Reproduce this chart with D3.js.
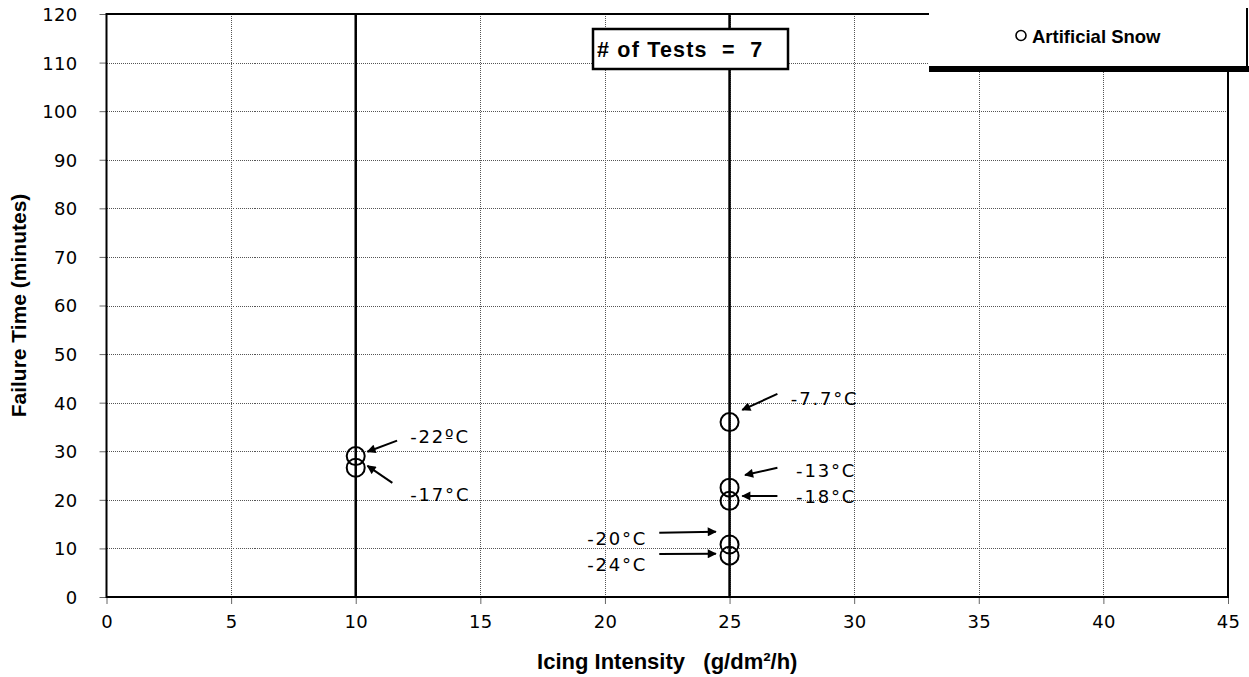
<!DOCTYPE html>
<html>
<head>
<meta charset="utf-8">
<script src="https://cdn.jsdelivr.net/npm/d3@7"></script>
<style>
  html, body { margin: 0; padding: 0; background: #fff; }
  svg { display: block; font-family: "Liberation Sans", Arial, sans-serif; }
</style>
</head>
<body>
<svg id="chart" width="1249" height="677"></svg>
<script>
// ---- data ----
const xTicks = [0, 5, 10, 15, 20, 25, 30, 35, 40, 45];
const yTicks = [0, 10, 20, 30, 40, 50, 60, 70, 80, 90, 100, 110, 120];
const intensity = [10, 10, 25, 25, 25, 25, 25];
const failureTime = [29.0, 26.6, 36.0, 22.5, 19.8, 10.8, 8.5];
const tempLabels = ["-22\u00BAC", "-17\u00B0C", "-7.7\u00B0C", "-13\u00B0C", "-18\u00B0C", "-20\u00B0C", "-24\u00B0C"];
// label anchor (data units)
const labelX = [12.19, 12.19, 27.46, 27.67, 27.67, 19.29, 19.29];
const labelY = [31.8, 19.8, 39.5, 24.8, 19.3, 10.7, 5.4];
// arrow tail / tip (data units)
const arrowX1 = [11.66, 11.47, 26.92, 26.92, 26.92, 22.18, 22.18];
const arrowY1 = [32.2, 23.5, 41.8, 26.6, 20.8, 13.2, 8.85];
const arrowX2 = [10.47, 10.47, 25.51, 25.62, 25.51, 24.45, 24.45];
const arrowY2 = [29.9, 27.0, 38.5, 25.1, 20.8, 13.45, 8.9];
const refLinesX = [10, 25];
const seriesName = "Artificial Snow";
const testsText = "# of Tests  =  7";
const xTitle = "Icing Intensity   (g/dm\u00B2/h)";
const yTitle = "Failure Time (minutes)";

// ---- layout ----
const svg = d3.select("#chart");
const L = 106.5, R = 1228, T = 14, B = 597;
const x = d3.scaleLinear().domain([0, 45]).range([L, R]);
const y = d3.scaleLinear().domain([0, 120]).range([B, T]);
const numFont = "DejaVu Sans, Verdana, sans-serif";

svg.append("defs").append("marker")
  .attr("id", "arr").attr("viewBox", "0 0 10 10")
  .attr("refX", 9).attr("refY", 5)
  .attr("markerWidth", 5).attr("markerHeight", 4.5)
  .attr("markerUnits", "strokeWidth")
  .attr("orient", "auto")
  .append("path").attr("d", "M0,0 L10,5 L0,10 z").attr("fill", "#000");

// gridlines
const grid = svg.append("g").attr("shape-rendering", "crispEdges");
grid.selectAll(".gx").data(xTicks.slice(1, -1)).join("line")
  .attr("x1", d => Math.round(x(d)) + 0.5).attr("x2", d => Math.round(x(d)) + 0.5).attr("y1", T).attr("y2", B)
  .attr("stroke", "#555").attr("stroke-width", 1).attr("stroke-dasharray", "1,1");
grid.selectAll(".gy").data(yTicks.slice(1, -1)).join("line")
  .attr("y1", d => Math.round(y(d)) + 0.5).attr("y2", d => Math.round(y(d)) + 0.5).attr("x1", L).attr("x2", R)
  .attr("stroke", "#555").attr("stroke-width", 1).attr("stroke-dasharray", "1,1");

// axes
const xAxis = svg.append("g").attr("transform", `translate(0,${B})`)
  .call(d3.axisBottom(x).tickValues(xTicks).tickSize(7).tickPadding(11).tickFormat(d3.format("d")));
const yAxis = svg.append("g").attr("transform", `translate(${L},0)`)
  .call(d3.axisLeft(y).tickValues(yTicks).tickSize(7).tickPadding(22).tickFormat(d3.format("d")));
[xAxis, yAxis].forEach(a => {
  a.select(".domain").remove();
  a.selectAll(".tick line").attr("stroke", "#666");
  a.selectAll(".tick text").attr("font-size", 18).attr("fill", "#000")
    .attr("letter-spacing", "0.3px").attr("font-family", numFont);
});
yAxis.selectAll(".tick text").attr("dy", "0.36em");

// reference lines
svg.selectAll(".ref").data(refLinesX).join("line")
  .attr("x1", d => x(d)).attr("x2", d => x(d)).attr("y1", T).attr("y2", B)
  .attr("stroke", "#000").attr("stroke-width", 2.5);

// plot border
svg.append("rect").attr("x", L).attr("y", T).attr("width", R - L).attr("height", B - T)
  .attr("fill", "none").attr("stroke", "#000").attr("stroke-width", 2);

// points
svg.selectAll(".pt").data(intensity).join("circle")
  .attr("cx", d => x(d)).attr("cy", (d, i) => y(failureTime[i]))
  .attr("r", 9).attr("fill", "none").attr("stroke", "#000").attr("stroke-width", 2);

// arrows
svg.selectAll(".arrow").data(arrowX1).join("line")
  .attr("x1", d => x(d)).attr("y1", (d, i) => y(arrowY1[i]))
  .attr("x2", (d, i) => x(arrowX2[i])).attr("y2", (d, i) => y(arrowY2[i]))
  .attr("stroke", "#000").attr("stroke-width", 2).attr("marker-end", "url(#arr)");

// labels
svg.selectAll(".lbl").data(tempLabels).join("text")
  .attr("x", (d, i) => x(labelX[i])).attr("y", (d, i) => y(labelY[i]))
  .attr("font-size", 18).attr("letter-spacing", "1.8px").attr("fill", "#000")
  .attr("font-family", numFont)
  .text(d => d);

// tests box
const tb = svg.append("g");
tb.append("rect").attr("x", 593).attr("y", 29).attr("width", 195).attr("height", 40)
  .attr("fill", "#fff").attr("stroke", "#000").attr("stroke-width", 2.5);
tb.append("text").attr("x", 597).attr("y", 57).attr("font-size", 21.5).attr("font-weight", "bold")
  .attr("letter-spacing", "1.2px").style("white-space", "pre")
  .text(testsText);

// legend
const lg = svg.append("g");
lg.append("rect").attr("x", 929).attr("y", -5).attr("width", 318).attr("height", 71)
  .attr("fill", "#fff");
lg.append("line").attr("x1", 1247).attr("x2", 1247).attr("y1", 8).attr("y2", 66)
  .attr("stroke", "#000").attr("stroke-width", 2);
lg.append("rect").attr("x", 929).attr("y", 66).attr("width", 320).attr("height", 6).attr("fill", "#000");
lg.append("circle").attr("cx", 1021).attr("cy", 35.5).attr("r", 5)
  .attr("fill", "none").attr("stroke", "#000").attr("stroke-width", 1.6);
lg.append("text").attr("x", 1032).attr("y", 42.5).attr("font-size", 18.5).attr("font-weight", "bold")
  .text(seriesName);

// axis titles
svg.append("text").attr("x", (L + R) / 2).attr("y", 669).attr("text-anchor", "middle")
  .attr("font-size", 22).attr("font-weight", "bold").style("white-space", "pre")
  .text(xTitle);
svg.append("text").attr("transform", `translate(26,${(T + B) / 2}) rotate(-90)`)
  .attr("text-anchor", "middle").attr("font-size", 21).attr("font-weight", "bold")
  .text(yTitle);
</script>
</body>
</html>
